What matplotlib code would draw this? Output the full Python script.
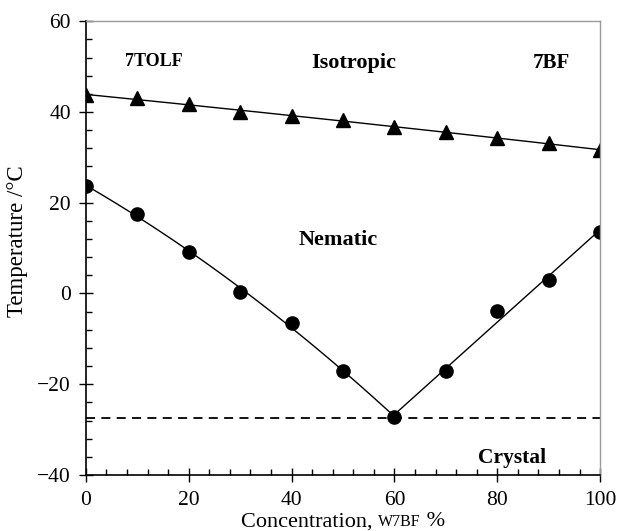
"""
Phase diagram of the 7TOLF / 7BF binary mixture.
Writes out.png.
"""

import numpy as np
import matplotlib
matplotlib.use("Agg")
import matplotlib.pyplot as plt
from matplotlib.ticker import MultipleLocator
from matplotlib.offsetbox import TextArea, HPacker, AnchoredOffsetbox

plt.rcParams["font.family"] = ["Liberation Serif", "DejaVu Serif"]

# ---------------------------------------------------------------------------
# Data
# ---------------------------------------------------------------------------
conc = [0, 10, 20, 30, 40, 50, 60, 70, 80, 90, 100]
t_clearing = [43.7, 43.1, 41.7, 39.9, 39.2, 38.2, 36.7, 35.6, 34.2, 33.1, 31.6]
t_melting = [23.7, 17.5, 9.1, 0.3, -6.6, -17.0, -27.3, -17.0, -3.9, 3.0, 13.6]
t_eutectic = -27.5
eutectic_conc = 60

# ---------------------------------------------------------------------------
# Figure
# ---------------------------------------------------------------------------
fig = plt.figure(figsize=(6.18, 5.31), dpi=100)
ax = fig.add_axes([0.139, 0.1055, 0.832, 0.8545])

x = np.array(conc, dtype=float)
yc = np.array(t_clearing)
ym = np.array(t_melting)

# clearing line: smooth quadratic fit through the triangles
xs = np.linspace(0, 100, 200)
ax.plot(xs, np.polyval(np.polyfit(x, yc, 2), xs), color="black", lw=1.0)

# liquidus branches
left = x <= eutectic_conc
right = x >= eutectic_conc
xl = np.linspace(0, eutectic_conc, 100)
ax.plot(xl, np.polyval(np.polyfit(x[left], ym[left], 2), xl), color="black", lw=1.0)
xr = np.linspace(eutectic_conc, 100, 50)
ax.plot(xr, np.polyval(np.polyfit(x[right], ym[right], 1), xr), color="black", lw=1.0)

ax.plot(x, yc, linestyle="none", marker="^", ms=10, color="black")
ax.plot(x, ym, linestyle="none", marker="o", ms=9.5, color="black")

ax.axhline(t_eutectic, color="black", lw=1.3, ls=(0, (5, 3.5)))

# region labels
ax.text(13.2, 51.2, "7TOLF", fontsize=13, fontweight="bold", ha="center", va="center")
ax.text(52.1, 50.7, "Isotropic", fontsize=16, fontweight="bold", ha="center", va="center")
ax.text(90.6, 50.7, "7BF", fontsize=15, fontweight="bold", ha="center", va="center")
ax.text(49.0, 11.8, "Nematic", fontsize=16, fontweight="bold", ha="center", va="center")
ax.text(82.8, -36.3, "Crystal", fontsize=15.5, fontweight="bold", ha="center", va="center")

ax.set_xlim(0, 100)
ax.set_ylim(-40, 60)
ax.xaxis.set_major_locator(MultipleLocator(20))
ax.xaxis.set_minor_locator(MultipleLocator(4))
ax.yaxis.set_major_locator(MultipleLocator(20))
ax.yaxis.set_minor_locator(MultipleLocator(4))
ax.tick_params(which="major", direction="inout", length=9.5, width=1.0, labelsize=15.5)
ax.tick_params(which="minor", direction="in", length=4.5, width=1.0)
ax.tick_params(axis="x", which="major", pad=6.5)
ax.tick_params(axis="y", which="major", pad=6)

for side in ["top", "right"]:
    ax.spines[side].set_color("#999999")
    ax.spines[side].set_linewidth(1.0)
for side in ["left", "bottom"]:
    ax.spines[side].set_linewidth(1.2)

ax.set_ylabel("Temperature /°C", fontsize=16.5)
ax.yaxis.set_label_coords(-0.113, 0.515)

# x label with small-caps style part
parts = [
    TextArea("Concentration, ", textprops=dict(fontsize=16)),
    TextArea("W7BF", textprops=dict(fontsize=11.5)),
    TextArea(" %", textprops=dict(fontsize=16)),
]
box = HPacker(children=parts, align="baseline", pad=0, sep=0)
anchored = AnchoredOffsetbox(loc="upper center", child=box, frameon=False,
                             bbox_to_anchor=(0.5, -0.082), bbox_transform=ax.transAxes,
                             pad=0, borderpad=0)
ax.add_artist(anchored)

fig.savefig("out.png", dpi=100)
